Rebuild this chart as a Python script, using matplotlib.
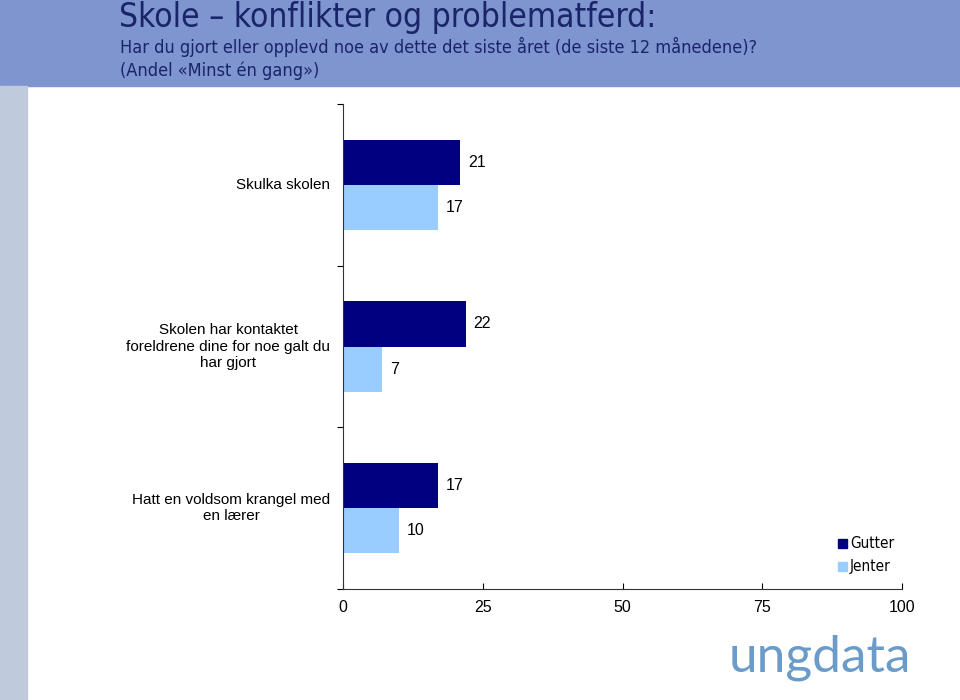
import matplotlib.pyplot as plt
from matplotlib.patches import Rectangle

# data
categories = [
    "Skulka skolen",
    "Skolen har kontaktet\nforeldrene dine for noe galt du\nhar gjort",
    "Hatt en voldsom krangel med\nen lærer",
]
gutter = [21, 22, 17]
jenter = [17, 7, 10]
xticks = [0, 25, 50, 75, 100]

navy = "#000080"
light = "#99CCFF"

W, H = 960, 700
fig = plt.figure(figsize=(W / 100, H / 100), dpi=100)

# header band and left strip
fig.patches.append(Rectangle((0, 1 - 86 / H), 1, 86 / H, transform=fig.transFigure,
                             color="#7F95CF", zorder=0))
fig.patches.append(Rectangle((0, 0), 27 / W, 1 - 86 / H, transform=fig.transFigure,
                             color="#C0CADD", zorder=0))

fig.text(119 / W, 1 - 18 / H, "Skole \u2013 konflikter og problematferd:", fontsize=24,
         color="#1A2468", va="center", ha="left", fontstretch="condensed")
fig.text(120 / W, 1 - 47 / H, "Har du gjort eller opplevd noe av dette det siste året (de siste 12 månedene)?",
         fontsize=13, color="#1A2468", va="center", ha="left", fontstretch="condensed")
fig.text(120 / W, 1 - 71 / H, "(Andel «Minst én gang»)",
         fontsize=13, color="#1A2468", va="center", ha="left", fontstretch="condensed")

# axes: x 343..902, y 104..589 px
ax = fig.add_axes([343 / W, 1 - 589 / H, (902 - 343) / W, (589 - 104) / H])
n = len(categories)
pos = list(range(n))
h = 0.28
ax.barh([p - h / 2 for p in pos], gutter, height=h, color=navy, label="Gutter")
ax.barh([p + h / 2 for p in pos], jenter, height=h, color=light, label="Jenter")

for p, g, j in zip(pos, gutter, jenter):
    ax.annotate(str(g), (g, p - h / 2), xytext=(5.5, 0), textcoords="offset points",
                va="center", ha="left", fontsize=11.5, family="Liberation Sans")
    ax.annotate(str(j), (j, p + h / 2), xytext=(5.5, 0), textcoords="offset points",
                va="center", ha="left", fontsize=11.5, family="Liberation Sans")

ax.set_xlim(0, 100)
ax.set_ylim(n - 0.5, -0.5)
ax.set_xticks(xticks)
ax.set_xticklabels([str(t) for t in xticks], fontsize=11.5, family="Liberation Sans")
ax.set_yticks([p - 0.5 for p in pos] + [n - 0.5])
ax.set_yticklabels([])
for p, c in zip(pos, categories):
    ax.text(-2.3, p, c, ha="right", va="center", fontsize=11, family="Liberation Sans",
            multialignment="center")
ax.tick_params(axis="x", direction="in", length=4, pad=8)
ax.tick_params(axis="y", direction="out", length=4)
for s in ["top", "right"]:
    ax.spines[s].set_visible(False)
ax.spines["left"].set_color("#333333")
ax.spines["bottom"].set_color("#333333")
ax.set_facecolor("none")

# legend
for i, (lab, col) in enumerate([("Gutter", navy), ("Jenter", light)]):
    y = 543 + 23 * i
    fig.patches.append(Rectangle((838 / W, 1 - (y + 5) / H), 9 / W, 9 / H,
                                 transform=fig.transFigure, color=col))
    fig.text(850 / W, 1 - y / H, lab, fontsize=11, va="center", ha="left",
             fontstretch="condensed")

# logo text
fig.text(820 / W, 1 - 658 / H, "ungdata", fontsize=37, color="#6A9BC9", ha="center",
         va="center", family="Lato")

fig.savefig("out.png", dpi=100)
